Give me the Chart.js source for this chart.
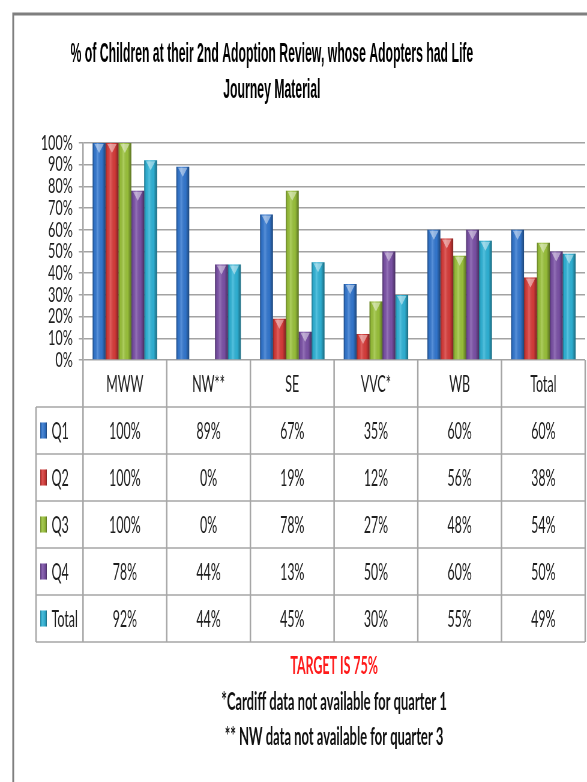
<!DOCTYPE html>
<html>
<head>
<meta charset="utf-8">
<script src="https://cdn.jsdelivr.net/npm/chart.js@4.4.1/dist/chart.umd.min.js"></script>
<style>
  html, body { margin: 0; padding: 0; background: #fff; overflow: hidden; }
  /* the source picture is squeezed sideways, so draw wide and squeeze the same way */
  #wrap { position: absolute; left: 0; top: 0; width: 978px; height: 782px;
          transform: scaleX(0.6002); transform-origin: 0 0; }
</style>
</head>
<body>
<div id="wrap"><canvas id="chart" width="978" height="782"></canvas></div>
<script>
/* data */
const categories = ['MWW', 'NW**', 'SE', 'VVC*', 'WB', 'Total'];
const seriesNames = ['Q1', 'Q2', 'Q3', 'Q4', 'Total'];
const q1 = [100, 89, 67, 35, 60, 60];
const q2 = [100, 0, 19, 12, 56, 38];
const q3 = [100, 0, 78, 27, 48, 54];
const q4 = [78, 44, 13, 50, 60, 50];
const totals = [92, 44, 45, 30, 55, 49];
const seriesColors = ['#3479d2', '#da3d3b', '#9cc43c', '#7d53a9', '#30b5d9'];

const titleLines = ['% of Children at their 2nd Adoption Review, whose Adopters had Life', 'Journey Material'];
const notes = ['TARGET IS 75%', '*Cardiff data not available for quarter 1', '** NW data not available for quarter 3'];

const seriesData = [q1, q2, q3, q4, totals];
const LINE = '#a6a6a6';
const TEXT = '#1e1e1e';

function shadeRect(ctx, l, t, w, h) {
    const g = ctx.createLinearGradient(l, 0, l + w, 0);
    g.addColorStop(0, 'rgba(0,0,0,0.38)');
    g.addColorStop(0.14, 'rgba(0,0,0,0.05)');
    g.addColorStop(0.38, 'rgba(255,255,255,0.18)');
    g.addColorStop(0.72, 'rgba(0,0,0,0.04)');
    g.addColorStop(1, 'rgba(0,0,0,0.42)');
    ctx.fillStyle = g;
    ctx.fillRect(l, t, w, h);
}

// text drawn a bit narrower than the face, like the condensed source fonts
function narrowText(ctx, text, x, y, sx) {
    ctx.save();
    ctx.translate(x, y);
    ctx.scale(sx, 1);
    ctx.fillText(text, 0, 0);
    ctx.restore();
}

/* frame, title, notes */
const framePlugin = {
    id: 'frame',
    beforeDraw(chart) {
        const ctx = chart.ctx;
        ctx.save();
        ctx.fillStyle = '#fff';
        ctx.fillRect(0, 0, chart.width, chart.height);
        ctx.strokeStyle = '#7f7f7f';
        ctx.lineWidth = 3;
        ctx.beginPath();
        ctx.moveTo(22, 782); ctx.lineTo(22, 14); ctx.lineTo(chart.width, 14);
        ctx.stroke();
        ctx.restore();
    },
    afterDraw(chart) {
        const ctx = chart.ctx;
        const a = chart.chartArea;
        ctx.save();
        ctx.fillStyle = '#000';
        ctx.font = 'bold 27px "Liberation Sans", Arial, sans-serif';
        ctx.textAlign = 'center';
        ctx.textBaseline = 'alphabetic';
        narrowText(ctx, titleLines[0], 453, 62, 0.755);
        narrowText(ctx, titleLines[1], 453, 98, 0.755);

        const cx = (a.left + a.right) / 2;
        ctx.textBaseline = 'middle';
        ctx.font = 'bold 24px Lato, sans-serif';
        ctx.fillStyle = '#ff1a1a';
        narrowText(ctx, notes[0], cx, 666, 0.86);
        ctx.fillStyle = '#111';
        ctx.font = 'bold 24px Lato, sans-serif';
        narrowText(ctx, notes[1], cx, 702, 0.9);
        narrowText(ctx, notes[2], cx, 737, 0.9);
        ctx.restore();
    }
};

/* bevel shading and top highlight on each bar */
const bevelPlugin = {
    id: 'bevel',
    afterDatasetsDraw(chart) {
        const ctx = chart.ctx;
        ctx.save();
        chart.data.datasets.forEach((ds, i) => {
            chart.getDatasetMeta(i).data.forEach(el => {
                const p = el.getProps(['x', 'y', 'base', 'width'], true);
                const h = p.base - p.y;
                if (h < 1) return;
                const l = p.x - p.width / 2;
                shadeRect(ctx, l, p.y, p.width, h);
                ctx.fillStyle = 'rgba(255,255,255,0.45)';
                ctx.beginPath();
                ctx.moveTo(l + p.width * 0.14, p.y + 1);
                ctx.lineTo(l + p.width * 0.86, p.y + 1);
                ctx.lineTo(p.x, p.y + Math.min(10, h));
                ctx.closePath();
                ctx.fill();
            });
        });
        ctx.restore();
    }
};

/* data table under the plot */
const tablePlugin = {
    id: 'dataTable',
    afterDraw(chart) {
        const ctx = chart.ctx;
        const a = chart.chartArea;
        const xs = chart.scales.x;
        const n = categories.length;
        const step = (a.right - a.left) / n;
        const tableLeft = 60;
        const headH = 47, rowH = 47;
        const top = a.bottom;
        const bodyTop = top + headH;
        const bottom = bodyTop + rowH * seriesNames.length;

        ctx.save();
        ctx.strokeStyle = LINE;
        ctx.lineWidth = 1.5;
        for (let r = 0; r <= seriesNames.length; r++) {
            const y = bodyTop + r * rowH;
            ctx.beginPath(); ctx.moveTo(tableLeft, y); ctx.lineTo(a.right, y); ctx.stroke();
        }
        ctx.lineWidth = 2.5;
        ctx.beginPath(); ctx.moveTo(tableLeft, bodyTop); ctx.lineTo(tableLeft, bottom); ctx.stroke();
        for (let c = 0; c <= n; c++) {
            const x = a.left + c * step;
            ctx.beginPath(); ctx.moveTo(x, top); ctx.lineTo(x, bottom); ctx.stroke();
        }

        ctx.fillStyle = TEXT;
        ctx.font = '24px Lato, sans-serif';
        ctx.textAlign = 'center';
        ctx.textBaseline = 'middle';
        categories.forEach((cat, c) => {
            narrowText(ctx, cat, xs.getPixelForValue(c), top + headH / 2 + 1, 0.86);
        });

        seriesNames.forEach((name, r) => {
            const cy = bodyTop + r * rowH + rowH / 2;
            ctx.fillStyle = seriesColors[r];
            ctx.fillRect(67, cy - 8, 11, 16);
            shadeRect(ctx, 67, cy - 8, 11, 16);
            ctx.fillStyle = TEXT;
            ctx.textAlign = 'left';
            narrowText(ctx, name, 86, cy + 1, 0.86);
            ctx.textAlign = 'center';
            seriesData[r].forEach((v, c) => {
                narrowText(ctx, v + '%', xs.getPixelForValue(c), cy + 1, 0.86);
            });
        });
        ctx.restore();
    }
};

new Chart(document.getElementById('chart'), {
    type: 'bar',
    data: {
        labels: categories,
        datasets: seriesNames.map((name, i) => ({
            label: name,
            data: seriesData[i],
            backgroundColor: seriesColors[i],
            borderWidth: 0,
            categoryPercentage: 0.77,
            barPercentage: 1.0
        }))
    },
    options: {
        responsive: false,
        animation: false,
        devicePixelRatio: 1,
        layout: { padding: { left: 0, right: 3, top: 143, bottom: 422 } },
        scales: {
            x: { display: false },
            y: {
                min: 0,
                max: 100,
                afterFit(scale) { scale.width = 138.3; },
                border: { display: true, color: LINE, width: 2.5 },
                grid: { color: '#a3a3a3', lineWidth: 1.5, tickLength: 7 },
                ticks: {
                    stepSize: 10,
                    autoSkip: false,
                    padding: 10,
                    color: TEXT,
                    font: { family: 'Lato, sans-serif', size: 21 },
                    callback: v => v + '%'
                }
            }
        },
        plugins: {
            legend: { display: false },
            title: { display: false },
            tooltip: { enabled: false }
        }
    },
    plugins: [framePlugin, bevelPlugin, tablePlugin]
});
</script>
</body>
</html>
